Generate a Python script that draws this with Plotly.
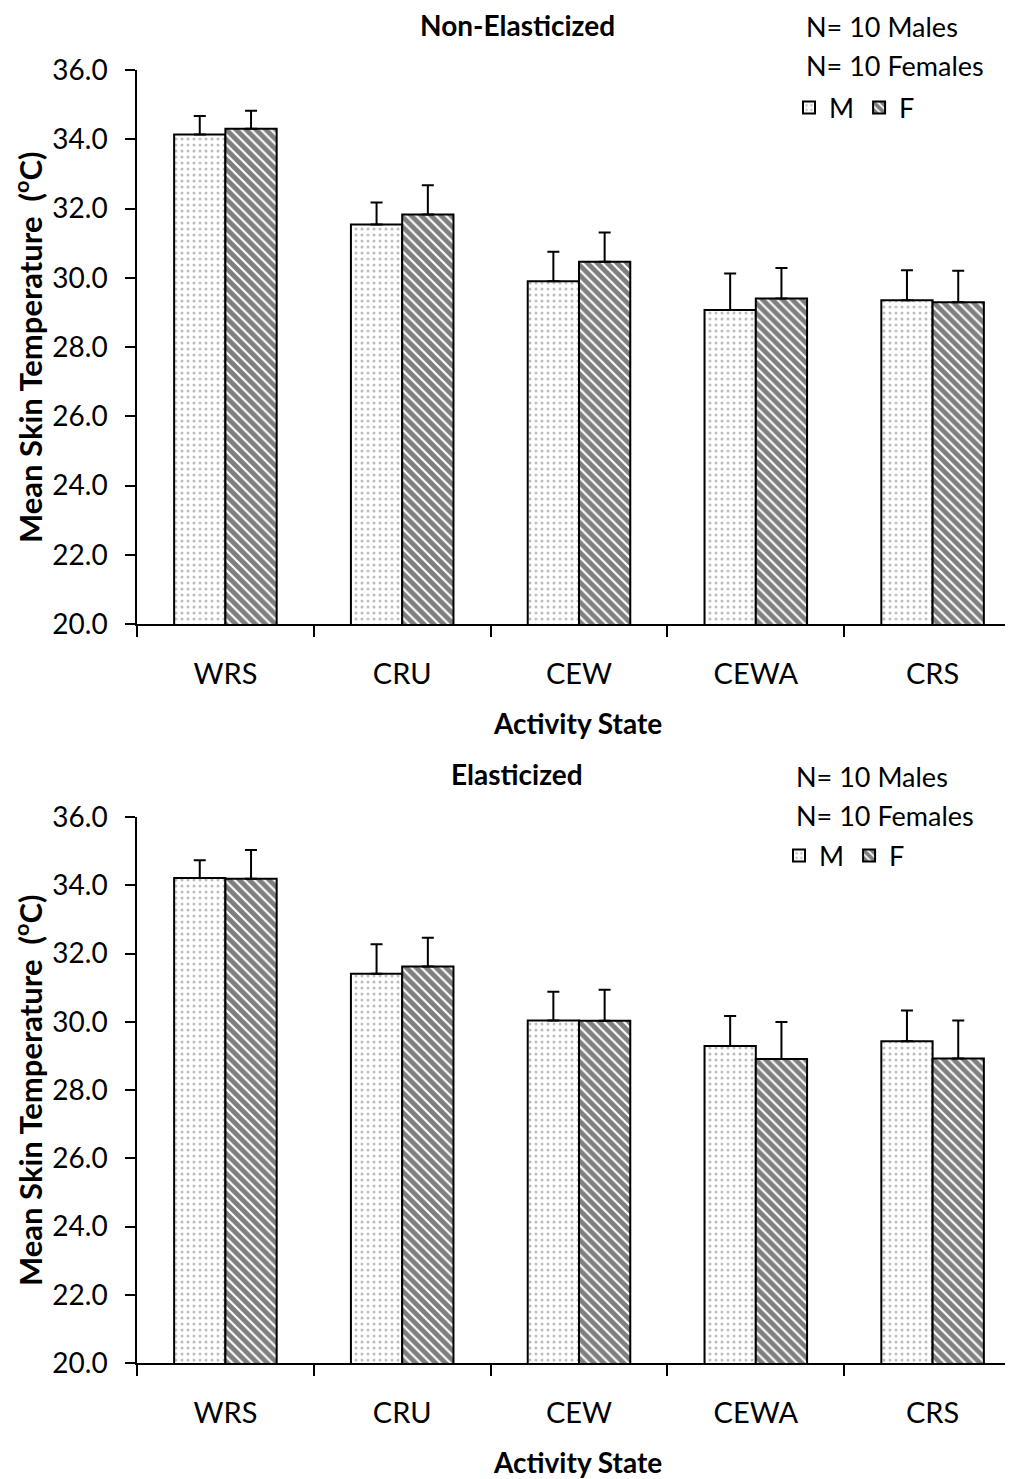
import plotly.graph_objects as go

categories = ["WRS", "CRU", "CEW", "CEWA", "CRS"]

# Non-Elasticized
non_m = [34.14, 31.54, 29.90, 29.07, 29.35]
non_m_err = [0.53, 0.63, 0.85, 1.05, 0.87]
non_f = [34.30, 31.83, 30.46, 29.40, 29.29]
non_f_err = [0.52, 0.84, 0.85, 0.88, 0.91]

# Elasticized
ela_m = [34.21, 31.41, 30.04, 29.29, 29.43]
ela_m_err = [0.52, 0.86, 0.84, 0.88, 0.90]
ela_f = [34.19, 31.62, 30.03, 28.91, 28.92]
ela_f_err = [0.84, 0.84, 0.91, 1.08, 1.12]

y_ticks = [20, 22, 24, 26, 28, 30, 32, 34, 36]

W, H = 1013, 1479
FONT = "Lato"
OFF = 8  # page body margin

def py(px):
    return 1 - (px - OFF) / H

def px_x(px):
    return (px - OFF) / W

pat_m = dict(shape=".", fgcolor="#7a7a7a", bgcolor="white", size=6, solidity=0.2, fillmode="overlay")
pat_f = dict(shape="\\", fgcolor="black", bgcolor="white", size=7, solidity=0.7, fillmode="overlay")

def bar(name, x, y, err, pat, xa, ya, legend):
    return go.Bar(
        name=name, x=x, y=y, xaxis=xa, yaxis=ya, legend=legend,
        marker=dict(color="white", pattern=pat, line=dict(color="black", width=2)),
        error_y=dict(type="data", symmetric=False, array=err, arrayminus=[0] * len(err),
                     color="black", thickness=2, width=6),
    )

fig = go.Figure()
fig.add_trace(bar("M", categories, non_m, non_m_err, pat_m, "x", "y", "legend"))
fig.add_trace(bar("F", categories, non_f, non_f_err, pat_f, "x", "y", "legend"))
fig.add_trace(bar("M", categories, ela_m, ela_m_err, pat_m, "x2", "y2", "legend2"))
fig.add_trace(bar("F", categories, ela_f, ela_f_err, pat_f, "x2", "y2", "legend2"))

xax = dict(showline=True, linecolor="black", linewidth=1.5, ticks="outside", tickson="boundaries",
           ticklen=11, tickwidth=1.5, tickcolor="black", showgrid=False, domain=[px_x(137), 1.0],
           tickfont=dict(family=FONT, size=29, color="black"), ticklabelstandoff=23,
           automargin=False, fixedrange=True)
yax = dict(range=[20, 36], tickvals=y_ticks, tickformat=".1f", showline=True, linecolor="black",
           linewidth=1.5, ticks="outside", ticklen=10, tickwidth=1.5, tickcolor="black",
           showgrid=False, zeroline=False, tickfont=dict(family=FONT, size=28, color="black"),
           ticklabelstandoff=12, automargin=False, fixedrange=True)

fig.update_layout(
    width=W, height=H,
    margin=dict(l=0, r=0, t=0, b=0, pad=0, autoexpand=False),
    paper_bgcolor="white", plot_bgcolor="white",
    barmode="group", bargap=0.42, bargroupgap=0,
    font=dict(family=FONT, color="black"),
    xaxis=dict(xax, anchor="y"),
    yaxis=dict(yax, anchor="x", domain=[py(624), py(70)]),
    xaxis2=dict(xax, anchor="y2"),
    yaxis2=dict(yax, anchor="x2", domain=[py(1363), py(817)]),
    legend=dict(orientation="h", x=px_x(789), y=py(108), xanchor="left", yanchor="middle",
                font=dict(family=FONT, size=27, color="black"), itemwidth=30,
                bgcolor="rgba(0,0,0,0)", tracegroupgap=0),
    legend2=dict(orientation="h", x=px_x(779), y=py(856), xanchor="left", yanchor="middle",
                 font=dict(family=FONT, size=27, color="black"), itemwidth=30,
                 bgcolor="rgba(0,0,0,0)", tracegroupgap=0),
    showlegend=True,
)

annotations = []
def ann(text, x, y, size, bold=False, angle=0, xanchor="center"):
    annotations.append(dict(text=f"<b>{text}</b>" if bold else text, x=px_x(x), y=py(y),
                            xref="paper", yref="paper", showarrow=False, textangle=angle,
                            xanchor=xanchor, yanchor="middle",
                            font=dict(family=FONT, size=size, color="black")))

y_title = "Mean Skin Temperature \u00a0(<sup>o</sup>C)"
for (top, bot, title, lx, ny) in [(70, 624, "Non-Elasticized", 804, 27), (817, 1363, "Elasticized", 794, 776)]:
    ann(title, 517, ny - 2, 28, bold=True)
    ann("N= 10 Males", lx, ny, 27, xanchor="left")
    ann("N= 10 Females", lx, ny + 39, 27, xanchor="left")
    ann(y_title, 28, (top + bot) / 2, 31, bold=True, angle=-90)
    ann("Activity State", 577, bot + 99, 28, bold=True)

fig.update_layout(annotations=annotations)
fig.write_html("out.html")
